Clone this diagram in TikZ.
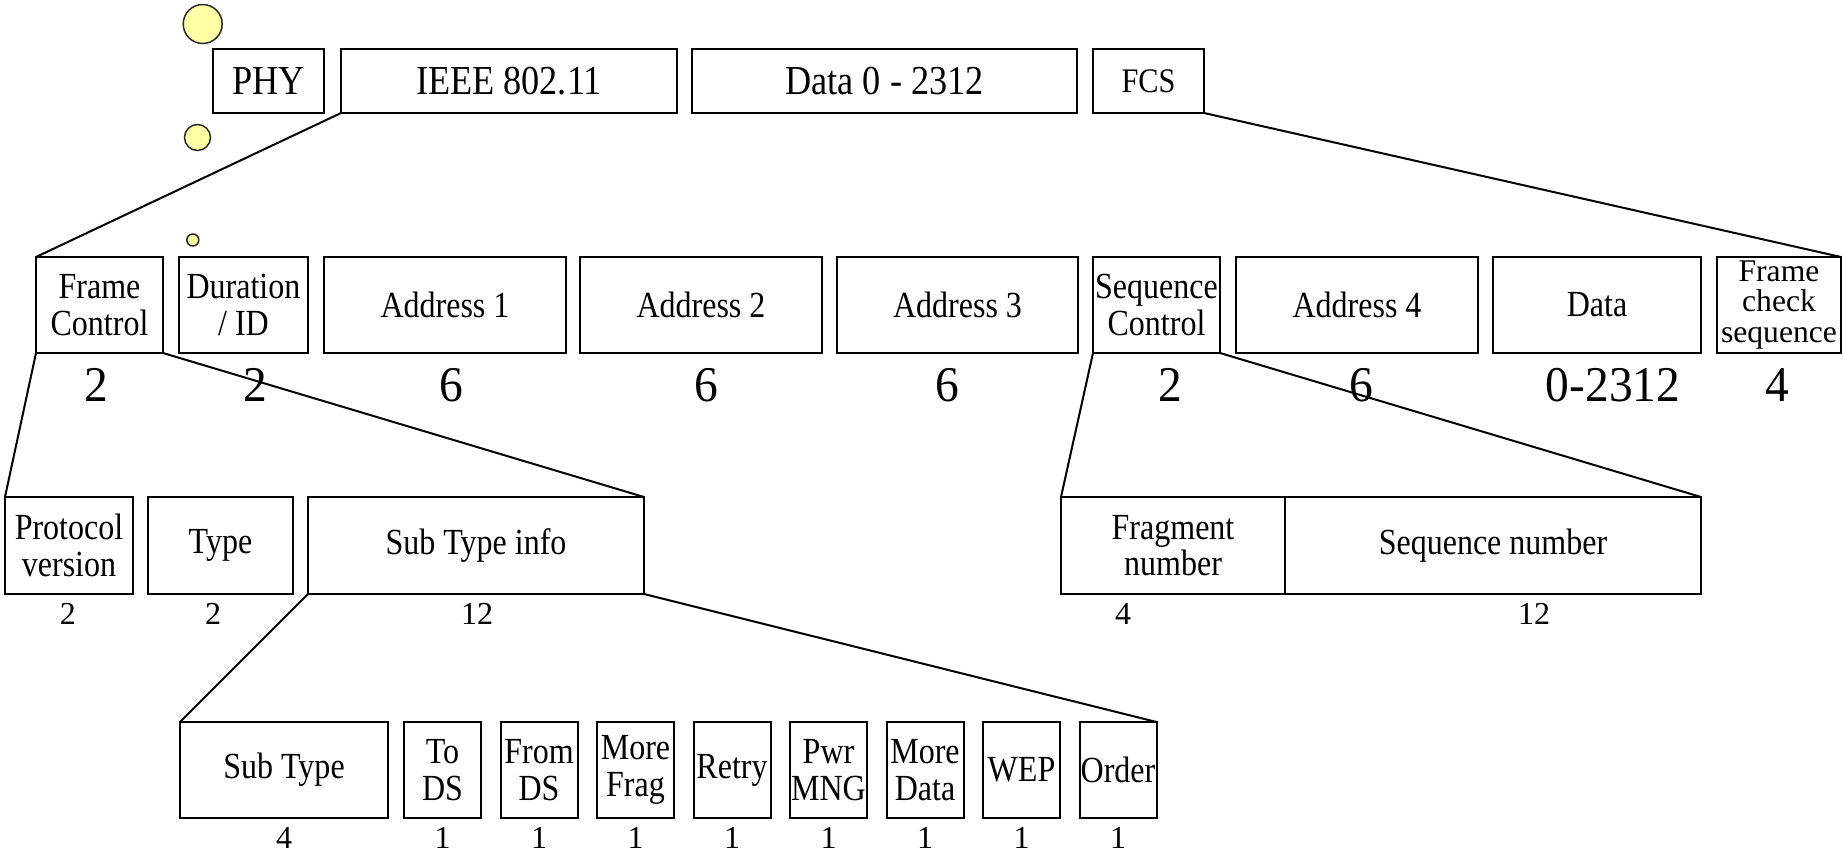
\documentclass[tikz,border=0pt]{standalone}
\usepackage{fontspec}
\setmainfont{Liberation Serif}
% condensed cuts of the serif face for the field labels
\newfontfamily\condtop{Liberation Serif}[FakeStretch=0.88]
\newfontfamily\condlbl{Liberation Serif}[FakeStretch=0.87]
\newfontfamily\conddigit{Liberation Serif}[FakeStretch=0.95]
\definecolor{dotfill}{HTML}{FFFFA6}
\definecolor{dotline}{HTML}{2A2A2A}
\newcommand\topfont{\condtop\fontsize{20.6}{22}\selectfont}
\newcommand\smalltopfont{\condtop\fontsize{17.2}{19}\selectfont}
\newcommand\lblfont{\condlbl\fontsize{18.4}{18.25}\selectfont}
\newcommand\fcsfont{\rmfamily\fontsize{15.8}{15.4}\selectfont}
\newcommand\bigfont{\conddigit\fontsize{25}{28}\selectfont}
\newcommand\sizefont{\fontsize{16}{18}\selectfont}
% \fieldbox[options]{name}{x1}{y1}{x2}{y2}{text}: a field drawn between two corners
\newcommand\fieldbox[7][]{%
  \pgfmathsetmacro\fbw{(#5-#3)*0.5}%
  \pgfmathsetmacro\fbh{(#6-#4)*0.5}%
  \node[fld, minimum width=\fbw pt, minimum height=\fbh pt, #1] (#2)
    at ({(#3+#5)/2},{(#4+#6)/2}) {#7};}
\begin{document}
\begin{tikzpicture}[x=0.5pt,y=-0.5pt,
  fld/.style={draw, line width=1pt, inner sep=0.5pt, outer sep=0pt,
    align=center, font=\lblfont},
  zoomline/.style={line width=1pt},
  dot/.style={circle, draw=dotline, fill=dotfill, line width=0.75pt,
    inner sep=0pt, outer sep=0pt},
  bignum/.style={anchor=base, font=\bigfont, inner sep=0pt},
  sizenum/.style={anchor=base, font=\sizefont, inner sep=0pt}]
\useasboundingbox (0,0) rectangle (1843,853);

% decorative dots
\node[dot, minimum size=19.5pt] (dotA) at (202.7,24) {};
\node[dot, minimum size=13pt] (dotB) at (197.5,137.5) {};
\node[dot, minimum size=6pt] (dotC) at (192.8,240) {};

% frame as sent
\fieldbox[font=\topfont]{phy}{213}{49}{324}{113}{PHY}
\fieldbox[font=\topfont]{ieee}{341}{49}{677}{113}{IEEE 802.11}
\fieldbox[font=\topfont]{payload}{692}{49}{1077}{113}{Data 0 - 2312}
\fieldbox[font=\smalltopfont]{fcstop}{1093}{49}{1204}{113}{FCS}

% MAC header fields
\fieldbox{fc}{36}{257}{163}{353}{Frame\\Control}
\fieldbox{dur}{179}{257}{308}{353}{Duration\\/ ID}
\fieldbox{aone}{324}{257}{566}{353}{Address 1}
\fieldbox{atwo}{580}{257}{822}{353}{Address 2}
\fieldbox{athree}{837}{257}{1078}{353}{Address 3}
\fieldbox{sc}{1093}{257}{1220}{353}{Sequence\\Control}
\fieldbox{afour}{1236}{257}{1478}{353}{Address 4}
\fieldbox{data}{1493}{257}{1701}{353}{Data}
\fieldbox[font=\fcsfont]{fcs}{1717}{257}{1841}{353}{Frame\\check\\sequence}

\node[bignum] (nfc) at (96,401.5) {2};
\node[bignum] (ndur) at (255,401.5) {2};
\node[bignum] (naone) at (451,401.5) {6};
\node[bignum] (natwo) at (706,401.5) {6};
\node[bignum] (nathree) at (947,401.5) {6};
\node[bignum] (nsc) at (1170,401.5) {2};
\node[bignum] (nafour) at (1361,401.5) {6};
\node[bignum] (ndata) at (1613,401.5) {0-2312};
\node[bignum] (nfcs) at (1777,401.5) {4};

% frame control and sequence control breakdown
\fieldbox{proto}{5}{497}{133}{594}{Protocol\\version}
\fieldbox{type}{148}{497}{293}{594}{Type}
\fieldbox{sti}{308}{497}{644}{594}{Sub Type info}
\fieldbox{frag}{1061}{497}{1285}{594}{Fragment\\number}
\fieldbox{seqn}{1285}{497}{1701}{594}{Sequence number}

\node[sizenum] (nproto) at (68,624) {2};
\node[sizenum] (ntype) at (213,624) {2};
\node[sizenum] (nsti) at (477,624) {12};
\node[sizenum] (nfrag) at (1123,624) {4};
\node[sizenum] (nseqn) at (1534,624) {12};

% sub type info bits
\fieldbox{st}{180}{722}{388}{818}{Sub Type}
\fieldbox{tods}{404}{722}{481}{818}{To\\DS}
\fieldbox{fromds}{500.5}{722}{577.5}{818}{From\\DS}
\fieldbox{morefrag}{597}{722}{674}{818}{More\\Frag}
\fieldbox{retry}{693.5}{722}{770.5}{818}{Retry}
\fieldbox{pwr}{790}{722}{867}{818}{Pwr\\MNG}
\fieldbox{moredata}{886.5}{722}{963.5}{818}{More\\Data}
\fieldbox{wep}{983}{722}{1060}{818}{WEP}
\fieldbox{order}{1079.5}{722}{1156.5}{818}{Order}

\foreach \b/\v in {st/4,tods/1,fromds/1,morefrag/1,retry/1,pwr/1,moredata/1,wep/1,order/1}
  \path (\b.south) ++(0,30) node[sizenum] (n\b) {\v};

% expansion lines
\draw[zoomline] (ieee.south west) -- (fc.north west);
\draw[zoomline] (fcstop.south east) -- (fcs.north east);
\draw[zoomline] (fc.south west) -- (proto.north west);
\draw[zoomline] (fc.south east) -- (sti.north east);
\draw[zoomline] (sc.south west) -- (frag.north west);
\draw[zoomline] (sc.south east) -- (seqn.north east);
\draw[zoomline] (sti.south west) -- (st.north west);
\draw[zoomline] (sti.south east) -- (order.north east);
\end{tikzpicture}
\end{document}
